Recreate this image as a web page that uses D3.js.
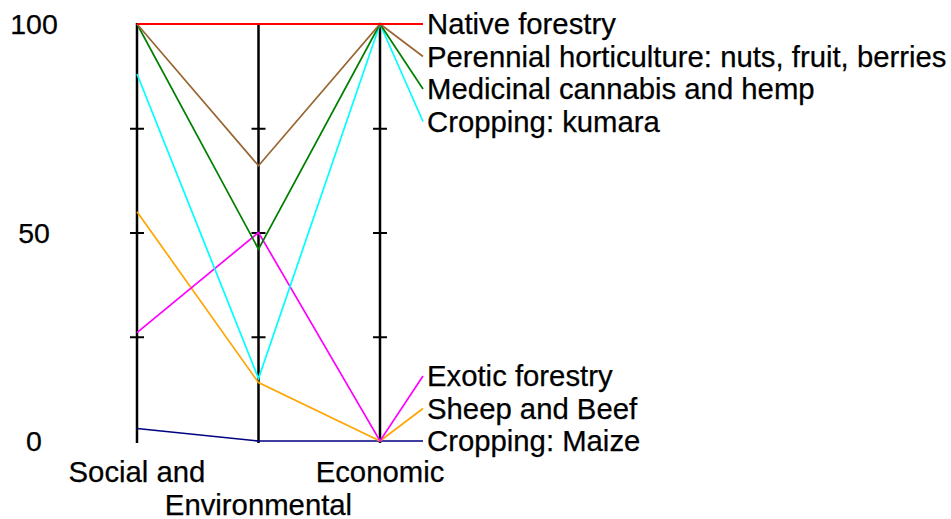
<!DOCTYPE html>
<html>
<head>
<meta charset="utf-8">
<script src="https://cdn.jsdelivr.net/npm/d3@7"></script>
<style>
	body { margin: 0; background: #fff; }
	text { font-family: "Liberation Sans", Arial, sans-serif; font-size: 29.3px; fill: #000; stroke: #000; stroke-width: 0.25px; }
</style>
</head>
<body>
<div id="chart"></div>
<script>
// Axis names (staggered under the chart) and series
const axisNames = ["Social and", "Environmental", "Economic"];
const seriesNames = [
	"Native forestry",
	"Perennial horticulture: nuts, fruit, berries",
	"Medicinal cannabis and hemp",
	"Cropping: kumara",
	"Exotic forestry",
	"Sheep and Beef",
	"Cropping: Maize"
];
const seriesColors = ["#ff0000", "#996633", "#008000", "#00ffff", "#ff00ff", "#ffa500", "#000080"];

// values per series: [Social and, Environmental, Economic]
const nativeForestry = [100, 100, 100];
const perennialHort = [100, 66, 100];
const medicinalCannabis = [100, 46, 100];
const croppingKumara = [88, 15, 100];
const exoticForestry = [26, 50, 0];
const sheepBeef = [55, 14, 0];
const croppingMaize = [3, 0, 0];

const yTickLabels = [0, 50, 100];
const axisTicks = [25, 50, 75];

const seriesValues = [nativeForestry, perennialHort, medicinalCannabis, croppingKumara, exoticForestry, sheepBeef, croppingMaize];

const WIDTH = 951, HEIGHT = 519;
const LABEL_GAP = 32.5;		// vertical spacing of right-hand labels

const svg = d3.select("#chart").append("svg")
	.attr("width", WIDTH)
	.attr("height", HEIGHT);

const x = d3.scalePoint().domain(axisNames).range([137, 380]);
const y = d3.scaleLinear().domain([0, 100]).range([441, 24]);

// left value labels
svg.selectAll(".ylab")
	.data(yTickLabels)
	.enter().append("text")
	.attr("x", 34)
	.attr("y", d => y(d) + 10)
	.attr("text-anchor", "middle")
	.style("font-size", "28.5px")
	.text(d => d);

// vertical axes with small cross ticks
axisNames.forEach(function(name) {
	const g = svg.append("g")
		.attr("transform", "translate(" + x(name) + ",0)")
		.call(d3.axisLeft(y).tickValues(axisTicks).tickSizeInner(7).tickSizeOuter(0).tickFormat(""));
	g.select(".domain").attr("stroke", "#000").attr("stroke-width", 2.5)
		.attr("d", "M0," + (y(100) - 1) + "V" + (y(0) + 2));
	g.selectAll(".tick line").attr("x1", -7).attr("x2", 7).attr("stroke", "#000").attr("stroke-width", 2);
});

// axis names, staggered
svg.selectAll(".axname")
	.data(axisNames)
	.enter().append("text")
	.attr("x", d => x(d))
	.attr("y", (d, i) => i % 2 == 0 ? 482 : 514.5)
	.attr("text-anchor", "middle")
	.text(d => d);

// label positions: start at last value, push apart
var labelY = seriesValues.map(v => y(v[v.length - 1]));
for (var i = 1; i < labelY.length; i++) {
	labelY[i] = Math.max(labelY[i], labelY[i - 1] + LABEL_GAP);
}
labelY[labelY.length - 1] = Math.min(labelY[labelY.length - 1], y(0));
for (var i = labelY.length - 2; i >= 0; i--) {
	labelY[i] = Math.min(labelY[i], labelY[i + 1] - LABEL_GAP);
}

const line = d3.line();

// draw series from last to first so red sits on top
for (var s = seriesValues.length - 1; s >= 0; s--) {
	const pts = axisNames.map((a, j) => [x(a), y(seriesValues[s][j])]);
	pts.push([423, labelY[s]]);
	svg.append("path")
		.attr("d", line(pts))
		.attr("fill", "none")
		.attr("stroke", seriesColors[s])
		.attr("stroke-width", s == 0 ? 2 : 1.7);
}

// series labels
svg.selectAll(".slab")
	.data(seriesNames)
	.enter().append("text")
	.attr("x", 427)
	.attr("y", (d, i) => labelY[i] + 10)
	.text(d => d);
</script>
</body>
</html>
